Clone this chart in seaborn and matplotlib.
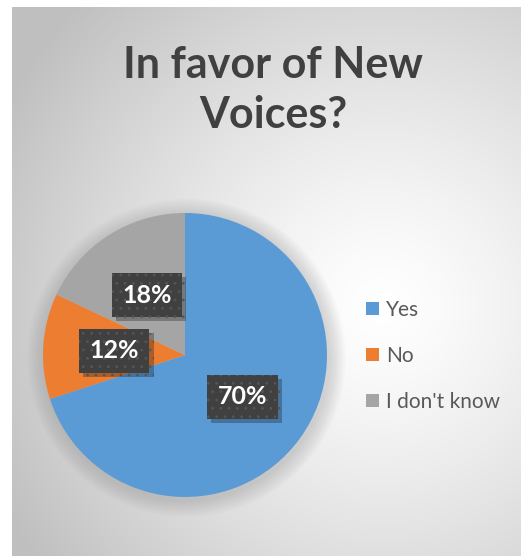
import numpy as np
import matplotlib
matplotlib.use("Agg")
import matplotlib.pyplot as plt
import matplotlib.patheffects as pe
import seaborn as sns

categories = ["Yes", "No", "I don't know"]
values = [70, 12, 18]
colors = ["#5B9BD5", "#ED7D31", "#A5A5A5"]
title = "In favor of New\nVoices?"

sns.set_theme(style="white")
plt.rcParams['font.family'] = ['Lato', 'DejaVu Sans']
plt.rcParams['hatch.linewidth'] = 0.8

W, H = 522, 556
fig = plt.figure(figsize=(W / 100, H / 100), dpi=100)
fig.patch.set_facecolor("white")

# background radial gradient (chart area)
bg = fig.add_axes([12 / W, 0, (W - 13) / W, (H - 7) / H])
bg.set_axis_off()
yy, xx = np.mgrid[0:549, 0:509]
cx, cy = 370, 300
d = np.sqrt((xx - cx) ** 2 + (yy - cy) ** 2) / 430.0
d = np.clip(d, 0, 1)
val = 1.0 - 0.25 * d ** 1.3
img = np.dstack([val, val, val])
bg.imshow(img, aspect="auto", interpolation="bilinear", extent=[0, 1, 0, 1], origin="upper")
bg.set_xlim(0, 1)
bg.set_ylim(0, 1)

# pie
cxp, cyp, r = 185, 355, 142
ext = 1.2
size = r * ext * 2
ax = fig.add_axes([(cxp - r * ext) / W, (H - cyp - r * ext) / H, size / W, size / H])
ax.set_axis_off()
for k in range(10):
    rr = 1.0 + 0.012 * (k + 1)
    ax.add_patch(plt.Circle((0.01, -0.02), rr, color="#808080", alpha=0.03, lw=0, zorder=0))
wedges, texts, autotexts = ax.pie(
    values, colors=colors, startangle=90, counterclock=False,
    autopct="%1.0f%%", pctdistance=0.5,
    textprops=dict(color="white", fontsize=18, fontweight="bold"),
    wedgeprops=dict(linewidth=0),
)
for t in autotexts:
    t.set_bbox(dict(boxstyle="square,pad=0.42", facecolor="#404040", edgecolor="#555555",
                    hatch="..", linewidth=0))
    t.get_bbox_patch().set_path_effects([pe.SimplePatchShadow(offset=(3, -3), alpha=0.3), pe.Normal()])
ax.set_xlim(-ext, ext)
ax.set_ylim(-ext, ext)
ax.set_aspect("equal")

fig.text(273 / W, 1 - 90 / H, title, ha="center", va="center", fontsize=31,
         fontweight="bold", color="#404040", linespacing=1.3)

leg = fig.legend(wedges, categories, loc="center left", bbox_to_anchor=(366 / W, 1 - 356 / H),
                 frameon=False, fontsize=15, labelcolor="#595959", handlelength=0.6,
                 handleheight=0.6, handletextpad=0.35, labelspacing=1.25, borderpad=0,
                 borderaxespad=0)

fig.savefig("out.png", dpi=100)
